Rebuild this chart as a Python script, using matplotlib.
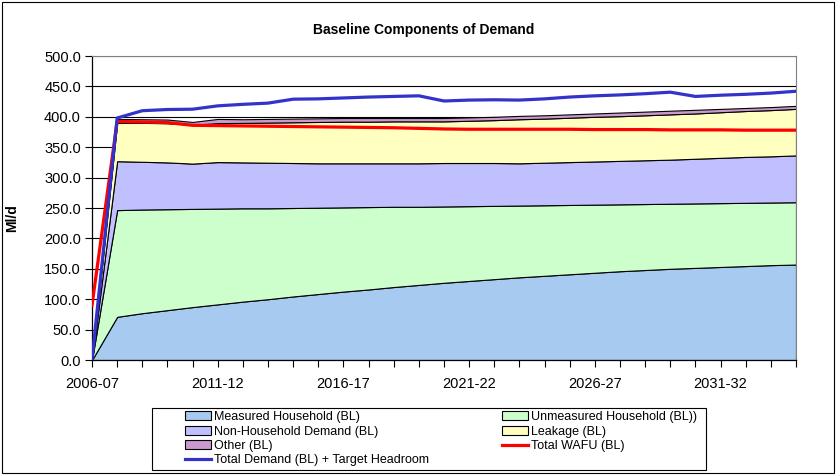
import numpy as np
import matplotlib
matplotlib.use('Agg')
import matplotlib.pyplot as plt
from matplotlib.patches import Rectangle, Patch
from matplotlib.lines import Line2D
from matplotlib.ticker import FormatStrFormatter

plt.rcParams['font.family'] = ['Liberation Sans', 'DejaVu Sans']

years = ['2006-07', '2007-08', '2008-09', '2009-10', '2010-11', '2011-12', '2012-13',
         '2013-14', '2014-15', '2015-16', '2016-17', '2017-18', '2018-19', '2019-20',
         '2020-21', '2021-22', '2022-23', '2023-24', '2024-25', '2025-26', '2026-27',
         '2027-28', '2028-29', '2029-30', '2030-31', '2031-32', '2032-33', '2033-34',
         '2034-35']

# stacked components (Ml/d)
measured = [0, 71, 77, 82, 87, 91.5, 96, 100, 104.5, 108.5, 112.5, 116, 120, 123.5, 127,
            130, 133, 136, 138.5, 141, 143.5, 146, 148, 150, 151.5, 153, 154.5, 156, 157]
unmeasured = [0, 175.5, 170.5, 166, 161.5, 157.5, 153.5, 149.5, 145.5, 142, 138.5, 135.5,
              132, 128.5, 125.5, 123, 120.5, 118, 116, 114, 112, 110, 108.5, 107, 106, 105,
              104, 103, 102.5]
non_household = [0, 80.5, 78.5, 77, 74.5, 76.5, 75.5, 75, 74, 73, 72.5, 72, 71.5, 71.5, 71.5,
                 71, 70.5, 69.5, 70, 70.5, 71, 71.5, 72, 72.5, 73.5, 74.5, 75.5, 76, 77]
leakage = [0, 63, 64, 64.5, 64, 64, 65, 66, 67, 68, 68.5, 68.5, 69, 69, 68.5, 69.5, 70.5,
           72.5, 72.5, 73, 73.5, 73.5, 74, 74.5, 74.5, 75, 75.5, 76, 76.5]
other = [0, 6.5, 6, 6, 4.5, 7, 6, 6, 6, 6, 6, 6, 5.5, 5.5, 5.5, 5.5, 5.5, 5.5, 5.5, 5.5,
         5.5, 6, 6, 6, 6, 5.5, 5, 5, 5]

# lines
wafu = [90, 392.5, 391.5, 390.5, 386, 385.5, 385, 384.5, 384, 383.5, 383, 382.5, 382, 381,
        380, 379.5, 379.5, 379.5, 379.5, 379.5, 379, 379, 379, 378.5, 378.5, 378.5, 378,
        378, 378]
total_demand = [0, 398, 410, 412, 412.5, 418, 420.5, 422.5, 429, 429.5, 431, 432.5, 433.5,
                434.5, 426, 427.5, 428, 427.5, 429.5, 432.5, 434.5, 436, 438, 440.5, 433.5,
                435.5, 437, 439, 442]

area_labels = ['Measured Household (BL)', 'Unmeasured Household (BL))',
               'Non-Household Demand (BL)', 'Leakage (BL)', 'Other (BL)']
area_colors = ['#A6CAF0', '#CCFFCC', '#C0C0FF', '#FFFFC0', '#CC99CC']

W, H = 836, 475
fig = plt.figure(figsize=(W / 100, H / 100), dpi=100)
ax = fig.add_axes([92 / W, 1 - 360 / H, 704 / W, 304 / H])

x = np.arange(len(years))
ax.stackplot(x, measured, unmeasured, non_household, leakage, other,
             colors=area_colors, edgecolor='black', linewidth=0.8, zorder=2)
ax.plot(x, wafu, color='#FF0000', lw=2.3, zorder=3)
ax.plot(x, total_demand, color='#3333CC', lw=2.3, zorder=4)

ax.set_xlim(0, len(years) - 1)
ax.set_ylim(0, 500)
ax.set_yticks(np.arange(0, 501, 50))
ax.yaxis.set_major_formatter(FormatStrFormatter('%.1f'))
ax.set_xticks(x)
ax.set_xticklabels([lab if i % 5 == 0 else '' for i, lab in enumerate(years)])
ax.tick_params(direction='out', length=5, width=0.8, labelsize=10.5, pad=3)
ax.tick_params(axis='x', pad=7)
ax.grid(axis='y', color='black', lw=0.8, zorder=0)
ax.set_axisbelow(True)
for s in ['top', 'right']:
    ax.spines[s].set_color('#808080')
for s in ['left', 'bottom']:
    ax.spines[s].set_color('black')
    ax.spines[s].set_linewidth(0.9)

fig.text(424 / W, 1 - 30 / H, 'Baseline Components of Demand', ha='center', va='center',
         fontsize=10, fontweight='bold')
fig.text(12 / W, 1 - 218 / H, 'Ml/d', ha='center', va='center', rotation=90,
         fontsize=10, fontweight='bold')

# legend
patches = [Patch(facecolor=c, edgecolor='black', lw=0.8) for c in area_colors]
red_line = Line2D([], [], color='#FF0000', lw=2.3)
blue_line = Line2D([], [], color='#3333CC', lw=2.3)
handles = [patches[0], patches[2], patches[4], blue_line, patches[1], patches[3], red_line]
labels = [area_labels[0], area_labels[2], area_labels[4], 'Total Demand (BL) + Target Headroom',
          area_labels[1], area_labels[3], 'Total WAFU (BL)']
fig.legend(handles, labels, ncol=2, loc='upper left', bbox_to_anchor=(185 / W, 1 - 411 / H),
           frameon=False, fontsize=9, handlelength=2.1, handleheight=0.7, handletextpad=0.25,
           columnspacing=5.8, labelspacing=0.2, borderpad=0, borderaxespad=0)
fig.add_artist(Rectangle((152 / W, 1 - 470 / H), (706 - 152) / W, (470 - 408) / H,
                         transform=fig.transFigure, fill=False, edgecolor='black', lw=0.8))
fig.add_artist(Rectangle((2 / W, 2 / H), (W - 4) / W, (H - 4) / H,
                         transform=fig.transFigure, fill=False, edgecolor='black', lw=0.8))

fig.savefig('out.png', dpi=100)
